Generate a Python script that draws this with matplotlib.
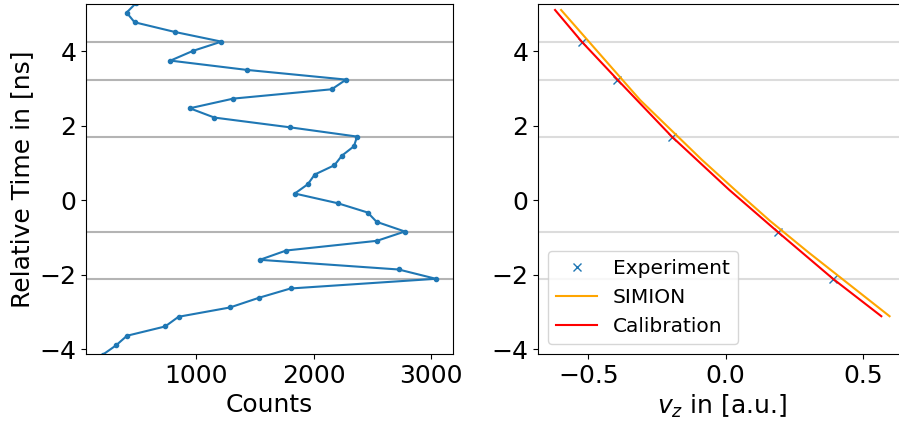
#!/usr/bin/env python
# coding:utf-8
"""time_calibration.py"""

import matplotlib
matplotlib.use('Agg')
import matplotlib.pyplot as plt

# time-of-flight histogram (relative time in ns, counts per bin)
times = [5.29, 5.04, 4.78, 4.52, 4.26, 4.01, 3.75, 3.50, 3.24, 2.98,
         2.73, 2.47, 2.22, 1.96, 1.71, 1.45, 1.20, 0.94, 0.69, 0.43,
         0.18, -0.08, -0.33, -0.58, -0.84, -1.09, -1.35, -1.60, -1.86, -2.11,
         -2.37, -2.62, -2.88, -3.13, -3.39, -3.64, -3.90, -4.15]
counts = [483, 404, 472, 815, 1213, 969, 778, 1431, 2277, 2154,
          1315, 943, 1153, 1794, 2370, 2344, 2242, 2177, 2009, 1950,
          1839, 2205, 2461, 2537, 2778, 2540, 1766, 1541, 2725, 3043,
          1803, 1533, 1286, 847, 733, 407, 313, 200]

# peak positions found in the histogram
peak_times = [4.26, 3.24, 1.71, -0.84, -2.11]
peak_vz = [-0.524, -0.394, -0.196, 0.189, 0.391]

# simulated (SIMION) and fitted (calibration) t(v_z) curves
simion_vz = [-0.599, -0.311, -0.087, 0.034, 0.161, 0.300, 0.597]
simion_t = [5.11, 2.69, 1.09, 0.28, -0.55, -1.39, -3.115]
calib_vz = [-0.621, -0.524, -0.394, -0.196, 0.013, 0.189, 0.391, 0.567]
calib_t = [5.11, 4.26, 3.24, 1.71, 0.28, -0.845, -2.11, -3.115]


def main():
  plt.rcParams['font.size'] = 18
  fig = plt.figure(figsize=(8.99, 4.23), dpi=100)
  ax1 = fig.add_axes([0.0957, 0.1631, 0.4077, 0.8274])
  ax2 = fig.add_axes([0.5988, 0.1631, 0.4093, 0.8274], sharey=ax1)

  for t in peak_times:
    ax1.axhline(t, color='#b4b4b4', lw=1.5, zorder=1)
  ax1.plot(counts, times, marker='.', color='C0', zorder=2)
  ax1.set_xlabel('Counts')
  ax1.set_ylabel('Relative Time in [ns]')

  for t in peak_times:
    ax2.axhline(t, color='#dcdcdc', lw=1.5, zorder=1)
  ax2.plot(peak_vz, peak_times, 'x', color='C0', label='Experiment')
  ax2.plot(simion_vz, simion_t, color='orange', label='SIMION')
  ax2.plot(calib_vz, calib_t, color='red', label='Calibration')
  ax2.set_xlabel(r'$v_z$ in [a.u.]')
  ax2.legend(loc='lower left', fontsize=14.5)

  ax1.set_ylim(-4.13, 5.27)
  fig.savefig('out.png', dpi=100)
  plt.close(fig)


if __name__ == '__main__':
  main()
